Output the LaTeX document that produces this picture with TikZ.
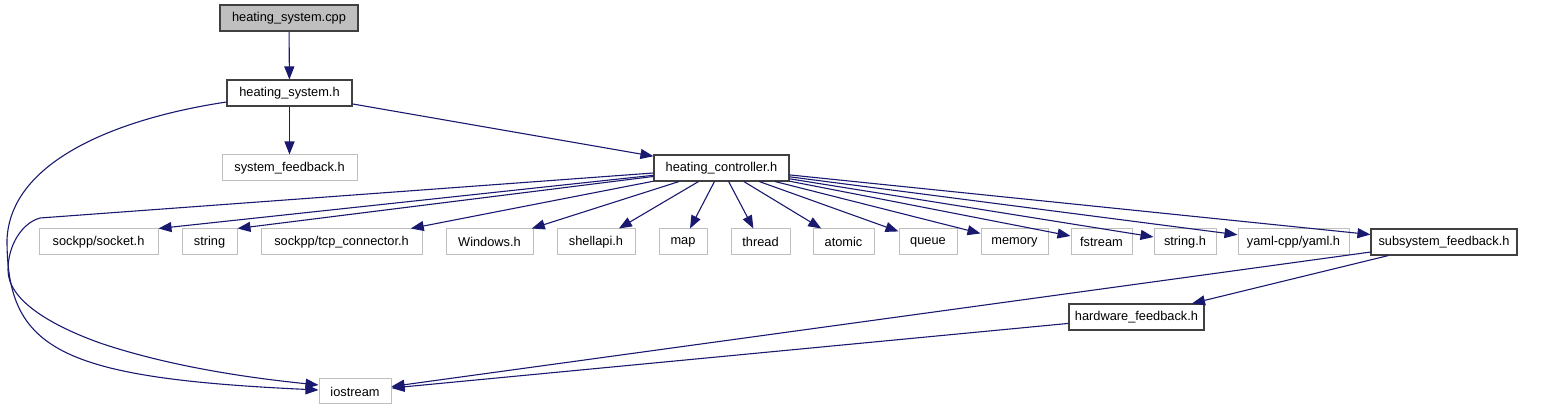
\documentclass[tikz,border=0pt]{standalone}
\usepackage{fontspec}
\setmainfont{Liberation Sans}
\usetikzlibrary{arrows.meta}
\definecolor{edgeblue}{RGB}{25,25,112}
\definecolor{boxgray}{RGB}{191,191,191}
\definecolor{boxdark}{RGB}{64,64,64}
\tikzset{
  fileB/.style={draw=boxdark, fill=white, minimum width=#1, minimum height=26pt,
                inner sep=0pt, line width=1.1pt},
  fileG/.style={draw=boxgray, fill=white, minimum width=#1, minimum height=26pt,
                inner sep=0pt, line width=1pt},
  fileR/.style={fileB=#1, fill=boxgray},
  arr/.style={-{Triangle[length=13pt, width=10pt]}, draw=edgeblue, line width=1.1pt},
}

\begin{document}
\begin{tikzpicture}[x=1pt, y=-1pt, font=\fontsize{12.8}{15}\selectfont]
      \useasboundingbox (0,0) rectangle (1559,411);

      % ── top of the include chain ───────────────────────────
      \node[fileR=138pt] (cpp)   at (289,18)    {heating\_system.cpp};
      \node[fileB=125pt] (hsys)  at (289.5,93)  {heating\_system.h};
      \node[fileG=135pt] (sysfb) at (289.5,168) {system\_feedback.h};
      \node[fileB=135pt] (hctl)  at (721.5,168) {heating\_controller.h};

      % ── headers pulled in by heating_controller.h ──────────
      \foreach \n/\x/\w/\t in {sock/98.5/119/{sockpp/socket.h}, str/209.5/55/{string},
          tcp/341.5/161/{sockpp/tcp\_connector.h}, win/489.5/87/{Windows.h},
          shell/596/78/{shellapi.h}, map/683/48/{map}, thread/760.5/59/{thread},
          atomic/843.5/61/{atomic}, queue/928/58/{queue}, memory/1014.5/67/{memory},
          fstream/1101.5/61/{fstream}, strh/1185/62/{string.h},
          yaml/1293.5/111/{yaml-cpp/yaml.h}}
        \node[fileG=\w pt] (\n) at (\x,242) {\t};
      \node[fileB=146pt] (subfb) at (1444,242)   {subsystem\_feedback.h};
      \node[fileB=135pt] (hwfb)  at (1136.5,317) {hardware\_feedback.h};
      \node[fileG=72pt, minimum height=25pt] (iostr) at (355,391.5) {iostream};

      % ── edges ──────────────────────────────────────────────
      \draw[arr] (cpp) -- (hsys);
      \draw[arr] (hsys) -- (sysfb);
      \draw[arr] (hsys) -- (hctl);
      \foreach \t in {sock.north east, str.north east, tcp, win, shell, map, thread,
                      atomic, queue, memory, fstream, strh, yaml, subfb}
        \draw[arr] (hctl) -- (\t);
      \draw[arr] (subfb) -- (hwfb);
      \draw[arr] (subfb) -- (iostr);
      \draw[arr] (hwfb) -- (iostr);

      % long way round to iostream
      \draw[arr] ([yshift=-9pt]hsys.west) .. controls (120,118) and (10,160) .. (7,240)
        .. controls (7,350) and (60,378) .. ([yshift=1.5pt]iostr.west);
      \draw[arr] ([yshift=-5pt]hctl.west) -- (40,218)
        .. controls (22,223) and (8,245) .. (8,270)
        .. controls (8,300) and (50,325) .. (100,343)
        .. controls (180,370) and (270,380) .. ([yshift=6.5pt]iostr.west);
    \end{tikzpicture}
\end{document}
